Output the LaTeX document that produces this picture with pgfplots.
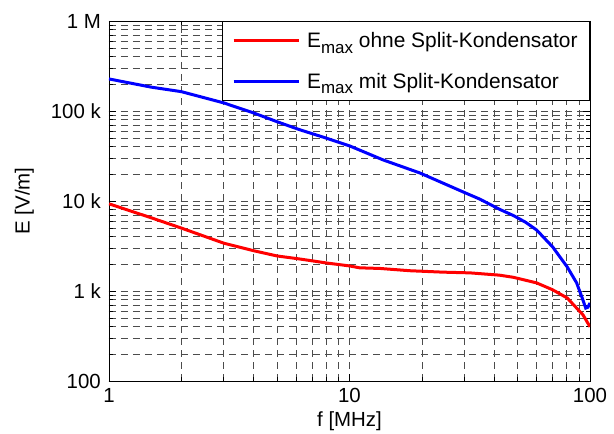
\documentclass[border=0pt]{standalone}
\usepackage{fontspec}
\setmainfont{Liberation Sans}
\usepackage{pgfplots}
\pgfplotsset{compat=1.18}
\begin{document}
\begin{tikzpicture}
\def\fs{\fontsize{20.5}{24}\selectfont}
\def\fl{\fontsize{21}{25}\selectfont}
\begin{loglogaxis}[
  scale only axis,
  width=481bp, height=360bp,
  xmin=1, xmax=100, ymin=100, ymax=1000000,
  xtick={1,10,100}, xticklabels={1,10,100},
  ytick={100,1000,10000,100000,1000000},
  yticklabels={100,1 k,10 k,100 k,1 M},
  tick align=inside,
  major tick length=7bp, minor tick length=4bp,
  tick style={black, line width=0.7bp},
  axis line style={black, line width=0.9bp},
  grid=both,
  major grid style={dash pattern=on 7bp off 5bp, black!70, line width=0.7bp},
  minor grid style={dash pattern=on 7bp off 5bp, black!70, line width=0.7bp},
  ticklabel style={font=\fs, inner sep=0pt},
  yticklabel style={anchor=east, xshift=-8bp},
  xticklabel style={anchor=north, yshift=-7bp},
  xlabel={f [MHz]}, ylabel={E [V/m]},
  label style={font=\fs, inner sep=0pt},
  xlabel style={at={(axis description cs:0.5,-0.086)}, anchor=north},
  ylabel style={at={(axis description cs:-0.156,0.5)}, anchor=south, rotate=0},
  legend style={at={(rel axis cs:1,1)}, anchor=north east, draw=black, line width=0.9bp, fill=white,
    font=\fl, inner xsep=10bp, inner ysep=9bp, row sep=20bp, column sep=5bp,
    cells={anchor=west}},
  legend image code/.code={\draw[#1] (0bp,0bp) -- (65bp,0bp);},
]
\addplot[red, line width=3bp] table {
1 9300
1.5 6500
2 5000
3 3400
4 2800
5 2450
6.2 2270
8 2050
10 1900
11 1810
13.4 1780
17.8 1680
24.4 1620
31.7 1590
42 1500
48 1420
60 1230
70 1030
80.4 836
88 646
93.6 541
100 400
};
\addlegendentry{E\raisebox{-0.5ex}{\fontsize{17}{17}\selectfont max} ohne Split-Kondensator}
\addplot[blue, line width=3bp] table {
1 227000
1.5 184000
2 164000
3 123000
4 95000
5 76000
6.2 62000
8 50000
10 41000
13.8 28600
19.6 20500
29.7 12600
34.8 10500
42 8100
48 6900
54 5800
60 4760
70 3080
80.4 1850
88 1230
92.5 857
96 646
98 660
100 737
};
\addlegendentry{E\raisebox{-0.5ex}{\fontsize{17}{17}\selectfont max} mit Split-Kondensator}
\end{loglogaxis}
\pgfresetboundingbox
\path[use as bounding box] (current axis.south west) ++(-109bp,-53bp) rectangle ++(614bp,434bp);
\end{tikzpicture}
\end{document}
